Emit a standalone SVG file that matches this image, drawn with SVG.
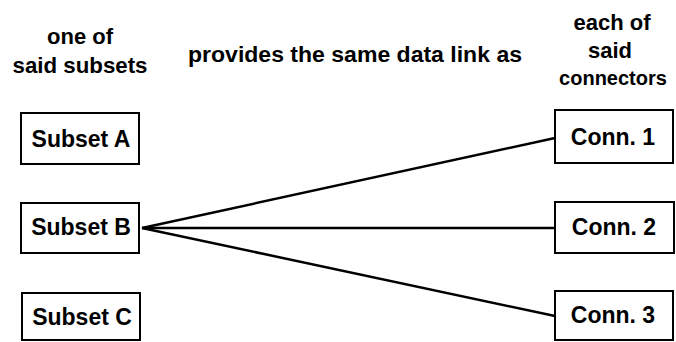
<svg xmlns="http://www.w3.org/2000/svg" width="676" height="342" viewBox="0 0 676 342">
<style>
text{font-family:"Liberation Sans",Arial,sans-serif;font-weight:bold;font-size:22px;fill:#000;text-anchor:middle}
.lbl{font-size:23px}
.sm{font-size:20px}
.box{fill:#fff;stroke:#000;stroke-width:2}
.conn{stroke:#000;stroke-width:2.5;fill:none}
</style>
<rect width="676" height="342" fill="#fff"/>
<g id="headers">
<text x="80" y="44">one of</text>
<text x="80" y="73" textLength="135" lengthAdjust="spacingAndGlyphs">said subsets</text>
<text x="355" y="62" textLength="334" lengthAdjust="spacingAndGlyphs">provides the same data link as</text>
<text x="612" y="30">each of</text>
<text x="610" y="58">said</text>
<text class="sm" x="613" y="85">connectors</text>
</g>
<g id="connectors">
<line class="conn" x1="142" y1="228" x2="555" y2="138"/>
<line class="conn" x1="142" y1="228" x2="555" y2="228" stroke-width="3"/>
<line class="conn" x1="142" y1="228" x2="555" y2="316"/>
</g>
<g id="subsetA"><rect class="box" x="21" y="113" width="118" height="51"/><text class="lbl" x="81" y="147">Subset A</text></g>
<g id="subsetB"><rect class="box" x="21" y="203" width="118" height="50"/><text class="lbl" x="81" y="235">Subset B</text></g>
<g id="subsetC"><rect class="box" x="22" y="293" width="118" height="47"/><text class="lbl" x="82" y="325">Subset C</text></g>
<g id="conn1"><rect class="box" x="555" y="110" width="118" height="53"/><text class="lbl" x="613" y="145">Conn. 1</text></g>
<g id="conn2"><rect class="box" x="555" y="202" width="119" height="51"/><text class="lbl" x="614" y="235">Conn. 2</text></g>
<g id="conn3"><rect class="box" x="555" y="291" width="118" height="49"/><text class="lbl" x="613" y="323">Conn. 3</text></g>
</svg>
